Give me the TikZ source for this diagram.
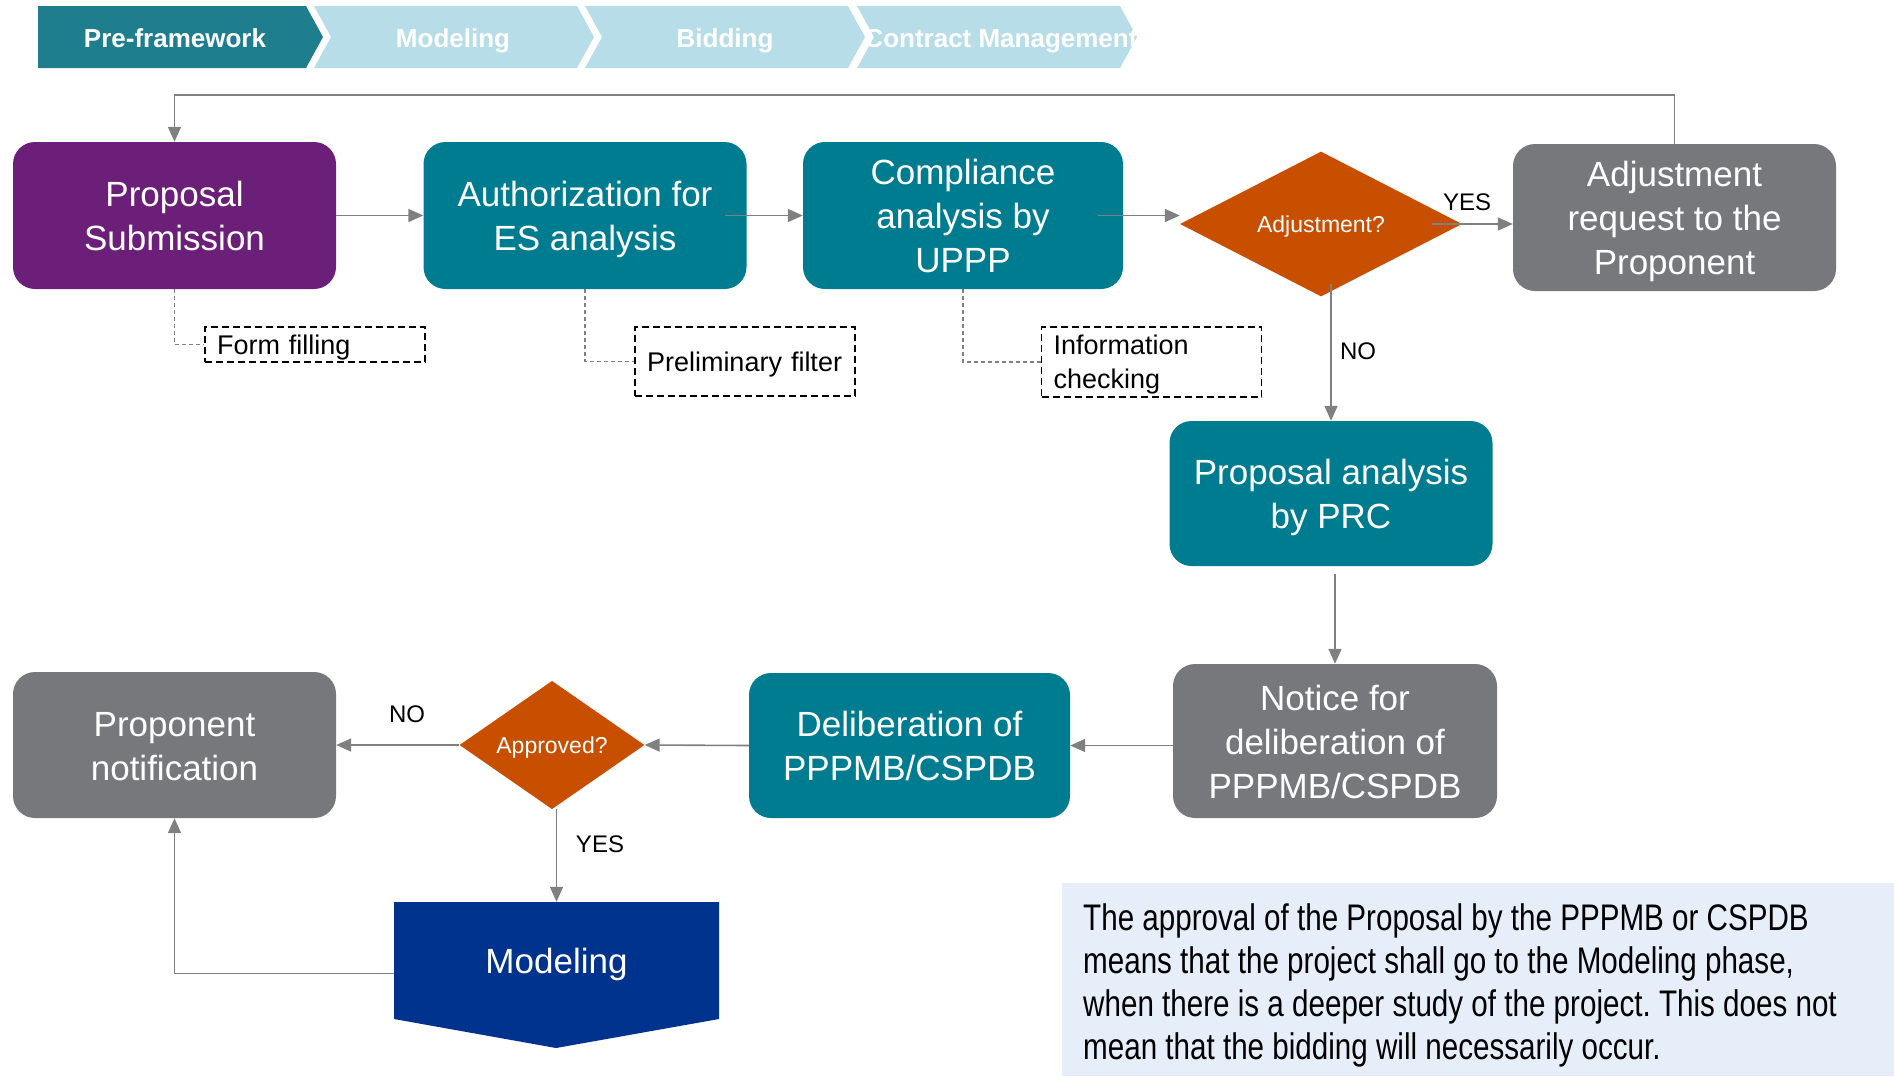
\documentclass[tikz,border=0pt]{standalone}
\usepackage{graphicx}
\usepackage{fontspec}
\setmainfont{Liberation Sans}
\usetikzlibrary{arrows.meta,shapes.geometric}

\definecolor{subcol}{RGB}{108,31,120}
\definecolor{proccol}{RGB}{0,124,145}
\definecolor{outcol}{RGB}{119,120,123}
\definecolor{deccol}{RGB}{200,78,0}
\definecolor{modcol}{RGB}{0,51,141}
\definecolor{linecol}{RGB}{128,128,128}
\definecolor{phasedark}{RGB}{30,126,142}
\definecolor{phaselight}{RGB}{183,222,232}
\definecolor{notecol}{RGB}{230,238,249}

\tikzset{
  every node/.style={inner sep=0pt},
  box/.style={rectangle,rounded corners=22pt,minimum width=323pt,minimum height=147pt,
    align=center,text=white,font=\fontsize{35}{44}\selectfont,text height=26pt,text depth=0pt},
  two/.style={text height=70pt},
  three/.style={text height=114pt},
  subbox/.style={box,fill=subcol},
  procbox/.style={box,fill=proccol},
  endbox/.style={box,fill=outcol},
  decbox/.style={diamond,fill=deccol,text=white,font=\fontsize{23}{28}\selectfont,
    text height=17pt,text depth=0pt},
  memo/.style={draw=black,line width=1.8pt,dash pattern=on 7pt off 4pt,minimum width=220pt,
    text width=196pt,inner xsep=12pt,align=left,font=\fontsize{27}{34}\selectfont,
    text height=19pt,text depth=0pt},
  phase/.style={anchor=base,text=white,font=\bfseries\fontsize{26}{30}\selectfont},
  lbl/.style={font=\fontsize{24}{28}\selectfont},
  flow/.style={draw=linecol,line width=1.6pt,-{Triangle[length=15pt,width=13pt]}},
  link/.style={draw=linecol,line width=1.1pt,dash pattern=on 4pt off 3pt}
}

\begin{document}
\begin{tikzpicture}[x=1pt,y=-1pt]
  \useasboundingbox (0,0) rectangle (1894,1076);

  % phases
  \fill[phasedark] (38,6) -- (306,6) -- (323,37) -- (306,68) -- (38,68) -- cycle;
  \foreach \x in {314,585,857}
    \fill[phaselight] (\x,6) -- ++(263,0) -- ++(17,31) -- ++(-17,31) -- ++(-263,0) -- ++(17,-31) -- cycle;
  \node [phase] (pf) at (175,47) {Pre-framework};
  \node [phase] (md) at (453,47) {Modeling};
  \node [phase] (bd) at (725,47) {Bidding};
  \node [phase] (cm) at (1001,47) {Contract Management};

  % note
  \fill[notecol] (1062,883) rectangle (1894,1076);
  \node [anchor=base west,font=\fontsize{37}{43}\selectfont\frenchspacing] (note) at (1083,930)
    {\scalebox{0.8}[1]{\begin{tabular}[t]{@{}l@{}}
     The approval of the Proposal by the PPPMB or CSPDB\\
     means that the project shall go to the Modeling phase,\\
     when there is a deeper study of the project. This does not\\
     mean that the bidding will necessarily occur.
     \end{tabular}}};

  \node [subbox,two] (prop) at (174.5,215.5) {Proposal\\Submission};
  \node [procbox,two] (auth) at (585,215.5) {Authorization for\\ES analysis};
  \node [procbox,three,minimum width=320pt] (comp) at (963,215.5) {Compliance\\analysis by\\UPPP};
  \node [decbox,minimum width=282pt,minimum height=138pt] (adj) at (1321,224) {Adjustment?};
  \node [endbox,three] (req) at (1674.5,217.5) {Adjustment\\request to the\\Proponent};
  \node [procbox,two,minimum height=145pt] (prc) at (1331,493.5) {Proposal analysis\\by PRC};
  \node [endbox,three,minimum width=324pt,minimum height=154pt] (notice) at (1335,741) {Notice for\\deliberation of\\PPPMB/CSPDB};
  \node [procbox,two,minimum width=321pt,minimum height=145pt] (delib) at (909.5,745.5) {Deliberation of\\PPPMB/CSPDB};
  \node [decbox,minimum width=185pt,minimum height=125pt] (appr) at (552,745) {Approved?};
  \node [endbox,two,minimum height=146pt] (pnot) at (174.5,745) {Proponent\\notification};
  \fill[modcol] (394,902) -- (719,902) -- (719,1019) -- (556,1048) -- (394,1019) -- cycle;
  \node [box,rounded corners=0pt,minimum width=325pt,minimum height=117pt] (mod) at (556.5,960.5) {Modeling};

  \node [memo,minimum height=35pt] (form) at (315,344.5) {Form filling};
  \node [memo,minimum height=69pt] (prelim) at (745,361.5) {Preliminary filter};
  \node [memo,minimum height=70pt,text depth=34pt] (info) at (1151.5,362) {Information\\checking};

  \node [lbl] (yes1) at (1467,202) {YES};
  \node [lbl] (no1) at (1358,351) {NO};
  \node [lbl] (no2) at (407,714) {NO};
  \node [lbl] (yes2) at (600,844) {YES};

  \draw [link] (prop.south) |- (form.west);
  \draw [link] (auth.south) |- (prelim.west);
  \draw [link] (comp.south) |- (info.west);

  \draw [flow] (prop.east) -- (auth.west);
  \draw [flow] ([xshift=-22pt]auth.east) -- (comp.west);
  \draw [flow] ([xshift=-25pt]comp.east) -- (comp.east -| adj.west);
  \draw [flow] ([xshift=-30pt]adj.east) -- (adj.east -| req.west);
  \draw [flow] ([yshift=13pt]prc.north |- adj.south) -- (prc.north);
  \draw [flow] (req.north) |- ([yshift=47pt]prop.north) -- (prop.north);
  \draw [flow] ([yshift=-8pt]prc.south -| notice.north) -- (notice.north);
  \draw [flow] (notice.west |- delib.east) -- (delib.east);
  \draw [flow] (delib.west) -- (appr.east);
  \draw [flow] (appr.west) -- (pnot.east);
  \draw [flow] (mod.north |- appr.south) -- (mod.north);
  \draw [flow] ([yshift=-13pt]mod.west) -| (pnot.south);
\end{tikzpicture}
\end{document}
